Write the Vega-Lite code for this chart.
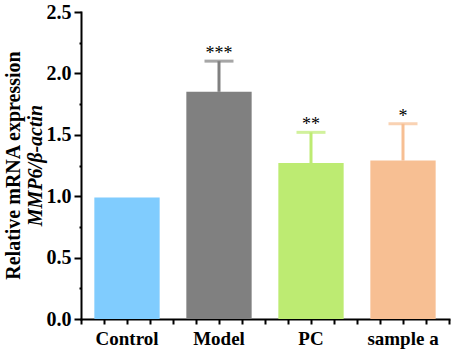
{
  "$schema": "https://vega.github.io/schema/vega-lite/v6.json",
  "autosize": {"type": "none"},
  "padding": {"left": 81, "top": 12, "right": 4, "bottom": 40},
  "width": 368,
  "height": 307,
  "data": {"values": [
    {"group": "Control", "value": 0.99, "upper": null, "sig": ""},
    {"group": "Model", "value": 1.85, "upper": 2.10, "sig": "***"},
    {"group": "PC", "value": 1.27, "upper": 1.52, "sig": "**"},
    {"group": "sample a", "value": 1.29, "upper": 1.59, "sig": "*"}
  ]},
  "config": {
    "view": {"stroke": null},
    "font": "Liberation Serif",
    "axis": {"domainColor": "black", "domainWidth": 2, "tickColor": "black", "tickWidth": 2, "labelColor": "black", "titleColor": "black", "labelFont": "Liberation Serif", "titleFont": "Liberation Serif", "labelFontWeight": "bold", "titleFontWeight": "bold"}
  },
  "resolve": {"scale": {"x": "independent"}, "axis": {"y": "independent", "x": "independent"}},
  "layer": [
    {
      "mark": {"type": "bar"},
      "encoding": {
        "x": {"field": "group", "type": "nominal", "sort": ["Control", "Model", "PC", "sample a"],
              "scale": {"paddingInner": 0.29, "paddingOuter": 0.145},
              "axis": {"title": null, "orient": "bottom", "labelAngle": 0, "ticks": false, "labelFontSize": 19, "labelPadding": 10, "domainCap": "square"}},
        "y": {"field": "value", "type": "quantitative", "scale": {"domain": [0, 2.5], "nice": false},
              "axis": {"orient": "left", "values": [0, 0.5, 1, 1.5, 2, 2.5], "format": ".1f", "tickSize": 7, "labelFontSize": 20, "labelPadding": 3, "grid": false, "domainCap": "square",
                       "title": "Relative mRNA expression", "titleFontSize": 20, "titleX": -68, "titleY": 153, "titleBaseline": "middle", "titleAlign": "center", "titleAngle": -90}},
        "color": {"field": "group", "type": "nominal", "legend": null,
                  "scale": {"domain": ["Control", "Model", "PC", "sample a"], "range": ["#80CCFE", "#808080", "#BDEB72", "#F7BF93"]}}
      }
    },
    {
      "mark": {"type": "rule", "strokeWidth": 3},
      "encoding": {
        "x": {"field": "group", "type": "nominal", "sort": ["Control", "Model", "PC", "sample a"], "axis": null},
        "y": {"field": "value", "type": "quantitative", "axis": null},
        "y2": {"field": "upper"},
        "color": {"field": "group", "type": "nominal", "legend": null}
      }
    },
    {
      "mark": {"type": "tick", "size": 29, "thickness": 3},
      "encoding": {
        "x": {"field": "group", "type": "nominal", "sort": ["Control", "Model", "PC", "sample a"], "axis": null},
        "y": {"field": "upper", "type": "quantitative", "axis": null},
        "color": {"field": "group", "type": "nominal", "legend": null}
      }
    },
    {
      "mark": {"type": "text", "fontSize": 18, "font": "Liberation Serif", "baseline": "alphabetic", "dy": -2, "color": "black"},
      "encoding": {
        "x": {"field": "group", "type": "nominal", "sort": ["Control", "Model", "PC", "sample a"], "axis": null},
        "y": {"field": "upper", "type": "quantitative", "axis": null},
        "text": {"field": "sig"}
      }
    },
    {
      "mark": {"type": "point", "opacity": 0},
      "encoding": {
        "x": {"datum": 0, "type": "quantitative", "scale": {"domain": [0, 4], "nice": false},
              "axis": {"orient": "bottom", "values": [0, 0.25, 0.5, 0.75, 1, 1.25, 1.5, 1.75, 2, 2.25, 2.5, 2.75, 3, 3.25, 3.5, 3.75, 4], "labels": false, "domain": false, "tickSize": 5, "grid": false, "title": null}},
        "y": {"field": "value", "type": "quantitative",
              "axis": {"orient": "left", "values": [0.25, 0.75, 1.25, 1.75, 2.25], "labels": false, "domain": false, "tickSize": 2, "grid": false,
                       "title": "MMP6/β-actin", "titleFontSize": 20, "titleFontStyle": "italic", "titleX": -46, "titleY": 153, "titleBaseline": "middle", "titleAlign": "center", "titleAngle": -90}}
      }
    }
  ]
}
